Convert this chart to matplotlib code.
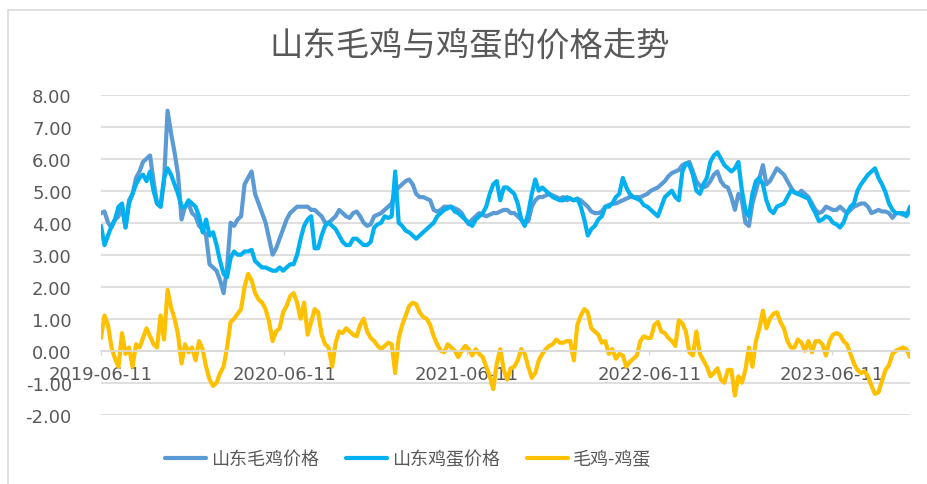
import pandas as pd
import matplotlib
matplotlib.use('Agg')
import matplotlib.pyplot as plt
import matplotlib.dates as mdates
from matplotlib.patches import Rectangle

plt.rcParams['font.family'] = ['Noto Sans CJK SC', 'DejaVu Sans']

# weekly readings, starting 2019-06-11
start = '2019-06-11'

chicken = [
    4.3, 4.35, 4.0, 3.85, 4.1, 4.2, 4.5, 3.85, 4.7, 4.9,
    5.4, 5.6, 5.9, 6.0, 6.1, 5.3, 4.6, 4.5, 5.3, 7.5,
    6.8, 6.2, 5.5, 4.1, 4.5, 4.6, 4.3, 4.2, 3.9, 3.8,
    3.6, 2.7, 2.6, 2.5, 2.2, 1.8, 2.6, 4.0, 3.9, 4.1,
    4.2, 5.2, 5.4, 5.6, 4.9, 4.6, 4.3, 4.0, 3.5, 3.0,
    3.2, 3.5, 3.8, 4.1, 4.3, 4.4, 4.5, 4.5,
    4.5, 4.5, 4.4, 4.4, 4.3, 4.2, 4.0, 4.0, 4.1, 4.2,
    4.4, 4.3, 4.2, 4.15, 4.3, 4.35, 4.2, 4.0, 3.9, 3.95,
    4.2, 4.25, 4.3, 4.4, 4.5, 4.6, 5.0, 5.1, 5.2, 5.3,
    5.35, 5.2, 4.9, 4.8, 4.8, 4.75, 4.7, 4.4, 4.35, 4.4,
    4.5, 4.5, 4.5, 4.45, 4.4, 4.3, 4.1, 3.95, 4.1, 4.2,
    4.3, 4.25, 4.2, 4.25, 4.3, 4.3, 4.35, 4.4, 4.4, 4.3,
    4.3, 4.2, 4.1, 4.0, 4.05, 4.5, 4.7, 4.8, 4.8, 4.85,
    4.9, 4.85, 4.8, 4.75, 4.8, 4.7, 4.75, 4.7, 4.75, 4.7,
    4.6, 4.5, 4.35, 4.3, 4.3, 4.35, 4.5, 4.55, 4.6, 4.6,
    4.65, 4.7,
    4.75, 4.8, 4.8, 4.8, 4.8, 4.85, 4.9, 5.0, 5.05, 5.1,
    5.2, 5.3, 5.45, 5.55, 5.6, 5.65, 5.8, 5.85, 5.9, 5.6,
    5.3, 5.15, 5.1, 5.15, 5.3, 5.5, 5.6, 5.3, 5.15, 5.1,
    4.8, 4.4, 4.9, 4.7, 4.0, 3.9, 4.6, 5.0, 5.4, 5.8,
    5.2, 5.3, 5.5, 5.7, 5.6, 5.5, 5.3, 5.1, 4.95, 4.9,
    5.0, 4.9, 4.8, 4.6, 4.4, 4.3, 4.35, 4.5, 4.45, 4.4,
    4.4, 4.5, 4.4, 4.3, 4.4, 4.5, 4.55, 4.6, 4.6, 4.5,
    4.3, 4.35, 4.4, 4.35, 4.35, 4.3, 4.15, 4.3, 4.3, 4.25,
    4.3, 4.3,
]

egg = [
    3.9, 3.3, 3.6, 3.9, 4.1, 4.5, 4.6, 3.85, 4.6, 4.9,
    5.2, 5.4, 5.5, 5.3, 5.6, 5.0, 4.6, 4.5, 5.4, 5.7,
    5.5, 5.2, 4.9, 4.5, 4.5, 4.7, 4.6, 4.5, 4.2, 3.7,
    4.1, 3.6, 3.7, 3.3, 2.8, 2.4, 2.3, 2.9, 3.1, 3.0,
    3.0, 3.1, 3.1, 3.15, 2.8, 2.7, 2.6, 2.6, 2.55, 2.5,
    2.5, 2.6, 2.5, 2.6, 2.7, 2.7, 3.0, 3.5,
    3.9, 4.1, 4.2, 3.2, 3.2, 3.6, 3.9, 4.0, 3.9, 3.8,
    3.6, 3.4, 3.3, 3.3, 3.5, 3.5, 3.4, 3.3, 3.3, 3.4,
    3.85, 3.95, 4.0, 4.2, 4.15, 4.2, 5.6, 4.0, 3.9, 3.75,
    3.7, 3.6, 3.5, 3.6, 3.7, 3.8, 3.9, 4.0, 4.2, 4.3,
    4.4, 4.45, 4.5, 4.35, 4.3, 4.2, 4.1, 4.0, 3.9, 4.1,
    4.2, 4.3, 4.5, 4.9, 5.2, 5.3, 4.7, 5.1, 5.1, 5.0,
    4.9, 4.6, 4.1, 3.9, 4.3, 4.9, 5.35, 5.0, 5.1, 5.0,
    4.9, 4.8, 4.75, 4.7, 4.7, 4.8, 4.75, 4.7, 4.75, 4.5,
    4.1, 3.6, 3.8, 3.9, 4.1, 4.2, 4.5, 4.5, 4.6, 4.8,
    4.9, 5.4,
    5.1, 4.9, 4.8, 4.75, 4.7, 4.55, 4.5, 4.4, 4.3, 4.2,
    4.5, 4.8, 4.9, 5.0, 4.8, 4.7, 5.6, 5.85, 5.8, 5.5,
    5.0, 4.9, 5.2, 5.4, 5.9, 6.1, 6.2, 6.0, 5.8, 5.7,
    5.6, 5.7, 5.9, 5.0, 4.4, 4.2, 4.9, 5.3, 5.4, 5.2,
    4.7, 4.4, 4.3, 4.5, 4.55, 4.6, 4.8, 5.0, 4.95, 4.9,
    4.85, 4.8, 4.75, 4.5, 4.3, 4.05, 4.1, 4.2, 4.15, 4.0,
    3.95, 3.85, 4.0, 4.3, 4.5, 4.6, 5.0, 5.2, 5.35, 5.5,
    5.6, 5.7, 5.4, 5.2, 4.95, 4.6, 4.4, 4.3, 4.3, 4.3,
    4.2, 4.5,
]

spread = [
    0.4, 1.1, 0.8, 0.1, -0.25, -0.5, 0.55, -0.1, 0.1, -0.5,
    0.2, 0.1, 0.4, 0.7, 0.45, 0.2, 0.1, 1.1, 0.35, 1.9,
    1.35, 1.0, 0.5, -0.4, 0.2, -0.05, 0.1, -0.3, 0.3, 0.05,
    -0.5, -0.9, -1.1, -1.0, -0.7, -0.5, 0.1, 0.9, 1.0, 1.15,
    1.3, 2.0, 2.4, 2.2, 1.8, 1.6, 1.5, 1.3, 0.9, 0.3,
    0.6, 0.7, 1.2, 1.4, 1.7, 1.8, 1.5, 1.0,
    1.5, 0.5, 0.9, 1.3, 1.2, 0.5, 0.2, 0.1, -0.5, 0.25,
    0.6, 0.55, 0.7, 0.6, 0.5, 0.45, 0.8, 1.0, 0.6, 0.4,
    0.3, 0.15, 0.05, 0.15, 0.25, 0.2, -0.7, 0.4, 0.8, 1.1,
    1.4, 1.5, 1.45, 1.2, 1.05, 1.0, 0.8, 0.45, 0.2, 0.0,
    -0.05, 0.2, 0.1, 0.0, -0.2, 0.0, 0.15, 0.05, -0.15, 0.05,
    -0.1, -0.2, -0.5, -0.8, -1.2, -0.4, 0.05, -0.6, -0.9, -0.55,
    -0.5, -0.3, 0.05, -0.1, -0.5, -0.85, -0.7, -0.3, -0.1, 0.05,
    0.15, 0.2, 0.35, 0.25, 0.25, 0.3, 0.3, -0.3, 0.8, 1.1,
    1.3, 1.2, 0.7, 0.6, 0.5, 0.25,
    0.3, -0.1, 0.05, -0.25, -0.1, -0.15, -0.5, -0.35, -0.25, -0.15,
    0.3, 0.45, 0.4, 0.4, 0.8, 0.9, 0.6, 0.55, 0.4, 0.3,
    0.15, 0.95, 0.85, 0.6, -0.05, -0.15, 0.6, -0.1, -0.3, -0.5,
    -0.8, -0.7, -0.55, -0.9, -1.0, -0.6, -0.6, -1.4, -0.8, -1.0,
    -0.6, 0.1, -0.5, 0.3, 0.7, 1.25, 0.7, 1.0, 1.15, 1.2,
    0.9, 0.7, 0.3, 0.1, 0.1, 0.35, 0.25, 0.0, 0.3, -0.05,
    0.3, 0.3, 0.2, -0.15, 0.3, 0.5, 0.55, 0.5, 0.3, 0.2,
    -0.1, -0.4, -0.6, -0.7, -0.65, -0.8, -1.1, -1.35, -1.3, -0.95,
    -0.6, -0.45, -0.1, 0.0, 0.05, 0.1, 0.05, -0.2,
]

names = ['山东毛鸡价格', '山东鸡蛋价格', '毛鸡-鸡蛋']
colors = ['#5B9BD5', '#00B0F0', '#FFC000']
title = '山东毛鸡与鸡蛋的价格走势'
tick_years = [2019, 2020, 2021, 2022, 2023]

dates = pd.date_range(start, periods=len(chicken), freq='7D')
gray = '#595959'
grid = '#D9D9D9'

fig = plt.figure(figsize=(9.28, 4.85), dpi=100)
ax = fig.add_axes([101 / 928, 1 - 415.7 / 485, 809 / 928, 320 / 485])

# chart frame (cut off at right and bottom like the screenshot)
fig.patches.append(Rectangle((8 / 928, -0.1), 1.2, 1 - 11 / 485 + 0.1,
                             transform=fig.transFigure, fill=False,
                             edgecolor=grid, linewidth=1.2))

for vals, name, c in zip([chicken, egg, spread], names, colors):
    ax.plot(dates, vals, color=c, linewidth=3, label=name,
            solid_joinstyle='round', solid_capstyle='round')

ax.set_ylim(-2, 8)
ax.set_yticks(range(-2, 9))
ax.set_yticklabels([f'{v:.2f}' for v in range(-2, 9)])
ax.set_xlim(dates[0], dates[-1])
ax.set_xticks([pd.Timestamp(f'{y}-06-11') for y in tick_years])
ax.xaxis.set_major_formatter(mdates.DateFormatter('%Y-%m-%d'))

ax.grid(axis='y', color=grid, linewidth=1.2)
ax.set_axisbelow(True)
for s in ['top', 'right', 'left']:
    ax.spines[s].set_visible(False)
ax.spines['bottom'].set_position(('data', 0))
ax.spines['bottom'].set_color(grid)
ax.spines['bottom'].set_linewidth(1.2)

ax.tick_params(axis='y', length=0, pad=21, labelsize=13, labelcolor=gray)
ax.tick_params(axis='x', length=3, width=1, color=grid, pad=7,
               labelsize=13, labelcolor=gray)
for lab in ax.get_xticklabels() + ax.get_yticklabels():
    lab.set_family('DejaVu Sans')

fig.text(470 / 928, 1 - 46 / 485, title, ha='center', va='center',
         fontsize=24, color=gray)

fig.legend(loc='center', bbox_to_anchor=(408 / 928, 1 - 460 / 485), ncol=3,
           frameon=False, fontsize=13, labelcolor=gray, handlelength=2.3,
           handletextpad=0.25, columnspacing=1.5)

fig.savefig('out.png', dpi=100)
